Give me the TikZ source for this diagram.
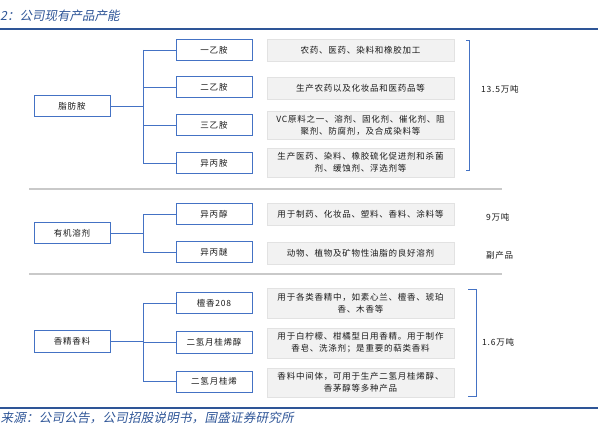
\documentclass[tikz,border=0pt]{standalone}
\usepackage{fontspec}
\setmainfont{Noto Sans CJK SC}
\newfontfamily\cjk{Noto Sans CJK SC}[LetterSpace=9]
\newfontfamily\cjkit{Noto Sans CJK SC}[FakeSlant=0.2]
\newfontfamily\cjkitw{Noto Sans CJK SC}[FakeSlant=0.2,LetterSpace=2]
\definecolor{nodeblue}{HTML}{4472C4}
\definecolor{titleblue}{HTML}{2E5597}
\definecolor{boxgray}{HTML}{F2F2F2}
\definecolor{boxedge}{HTML}{E2E2E2}
\definecolor{sepgray}{HTML}{C9C9C9}
\definecolor{txt}{HTML}{1A1A1A}
\tikzset{
  catbox/.style={draw=nodeblue, line width=1pt, fill=white, minimum width=76pt, minimum height=21pt, inner sep=0pt, font=\cjk\fontsize{8.5}{10}\selectfont, text=txt},
  prodbox/.style={catbox},
  descbox/.style={draw=boxedge, line width=0.5pt, fill=boxgray, minimum width=187pt, inner sep=0pt, align=center, font=\cjk\fontsize{8.5}{12}\selectfont, text=txt},
  conn/.style={draw=nodeblue, line width=0.9pt},
  brk/.style={draw=nodeblue, line width=0.8pt},
  sepline/.style={draw=sepgray, line width=1.5pt},
  rulebl/.style={draw=titleblue, line width=1.6pt},
  qty/.style={anchor=west, inner sep=0pt, font=\cjk\fontsize{8.5}{10}\selectfont, text=txt},
  ttl/.style={anchor=west, inner sep=0pt, font=\cjkit\fontsize{12.5}{14}\selectfont, text=titleblue},
  srcl/.style={anchor=west, inner sep=0pt, font=\cjkitw\fontsize{12.5}{14}\selectfont, text=titleblue}
}
\begin{document}
\begin{tikzpicture}[x=1pt,y=-1pt]
\useasboundingbox (0,0) rectangle (598,433);
% title and rules
\node[ttl] (title) at (0,15.5) {2：公司现有产品产能};
\draw[rulebl] (0,29) -- (598,29);
\draw[rulebl] (0,408) -- (598,408);
\node[srcl] (source) at (0.5,418) {来源：公司公告，公司招股说明书，国盛证券研究所};
% separators
\draw[sepline] (29,189) -- (502,189);
\draw[sepline] (29,274) -- (502,274);
% category nodes
\node[catbox] (A) at (72,106.5) {脂肪胺};
\node[catbox] (B) at (72,233.5) {有机溶剂};
\node[catbox] (C) at (72,341.5) {香精香料};
% product nodes
\node[prodbox] (A1) at (214,50) {一乙胺};
\node[prodbox] (A2) at (214,87.5) {二乙胺};
\node[prodbox] (A3) at (214,125.5) {三乙胺};
\node[prodbox] (A4) at (214,163.5) {异丙胺};
\node[prodbox] (B1) at (214,214.5) {异丙醇};
\node[prodbox] (B2) at (214,252.5) {异丙醚};
\node[prodbox] (C1) at (214,303) {檀香208};
\node[prodbox] (C2) at (214,342.5) {二氢月桂烯醇};
\node[prodbox] (C3) at (214,381.5) {二氢月桂烯};
% description boxes
\node[descbox, minimum height=22pt] (D1) at (360.5,50) {农药、医药、染料和橡胶加工};
\node[descbox, minimum height=22pt] (D2) at (360.5,88) {生产农药以及化妆品和医药品等};
\node[descbox, minimum height=28pt] (D3) at (360.5,125) {VC原料之一、溶剂、固化剂、催化剂、阻\\聚剂、防腐剂，及合成染料等};
\node[descbox, minimum height=29pt] (D4) at (360.5,162.5) {生产医药、染料、橡胶硫化促进剂和杀菌\\剂、缓蚀剂、浮选剂等};
\node[descbox, minimum height=22pt] (D5) at (360.5,214) {用于制药、化妆品、塑料、香料、涂料等};
\node[descbox, minimum height=22pt] (D6) at (360.5,253) {动物、植物及矿物性油脂的良好溶剂};
\node[descbox, minimum height=30pt] (D7) at (360.5,303) {用于各类香精中，如素心兰、檀香、琥珀\\香、木香等};
\node[descbox, minimum height=30pt] (D8) at (360.5,343) {用于白柠檬、柑橘型日用香精。用于制作\\香皂、洗涤剂；是重要的萜类香料};
\node[descbox, minimum height=29pt] (D9) at (360.5,382.5) {香料中间体，可用于生产二氢月桂烯醇、\\香茅醇等多种产品};
% connectors group A
\coordinate (ja) at (143,106.5);
\draw[conn] (A.east) -- (ja);
\draw[conn] (ja |- A1.west) -- (ja |- A4.west);
\foreach \n in {A1,A2,A3,A4} \draw[conn] (ja |- \n.west) -- (\n.west);
% connectors group B
\coordinate (jb) at (143,233.5);
\draw[conn] (B.east) -- (jb);
\draw[conn] (jb |- B1.west) -- (jb |- B2.west);
\foreach \n in {B1,B2} \draw[conn] (jb |- \n.west) -- (\n.west);
% connectors group C
\coordinate (jc) at (143,341.5);
\draw[conn] (C.east) -- (jc);
\draw[conn] (jc |- C1.west) -- (jc |- C3.west);
\foreach \n in {C1,C2,C3} \draw[conn] (jc |- \n.west) -- (\n.west);
% brackets
\coordinate (b1t) at (466,40);
\coordinate (b1b) at (466,170);
\draw[brk] (b1t) -- ++(3,0) -- ++(0,130) -- (b1b);
\coordinate (b2t) at (468,289);
\coordinate (b2b) at (468,396);
\draw[brk] (b2t) -- ++(8,0) -- ++(0,107) -- (b2b);
% quantities
\node[qty] (Q1) at (481,89) {13.5万吨};
\node[qty] (Q2) at (486,217) {9万吨};
\node[qty] (Q3) at (486,255) {副产品};
\node[qty] (Q4) at (482,342) {1.6万吨};
\end{tikzpicture}
\end{document}
